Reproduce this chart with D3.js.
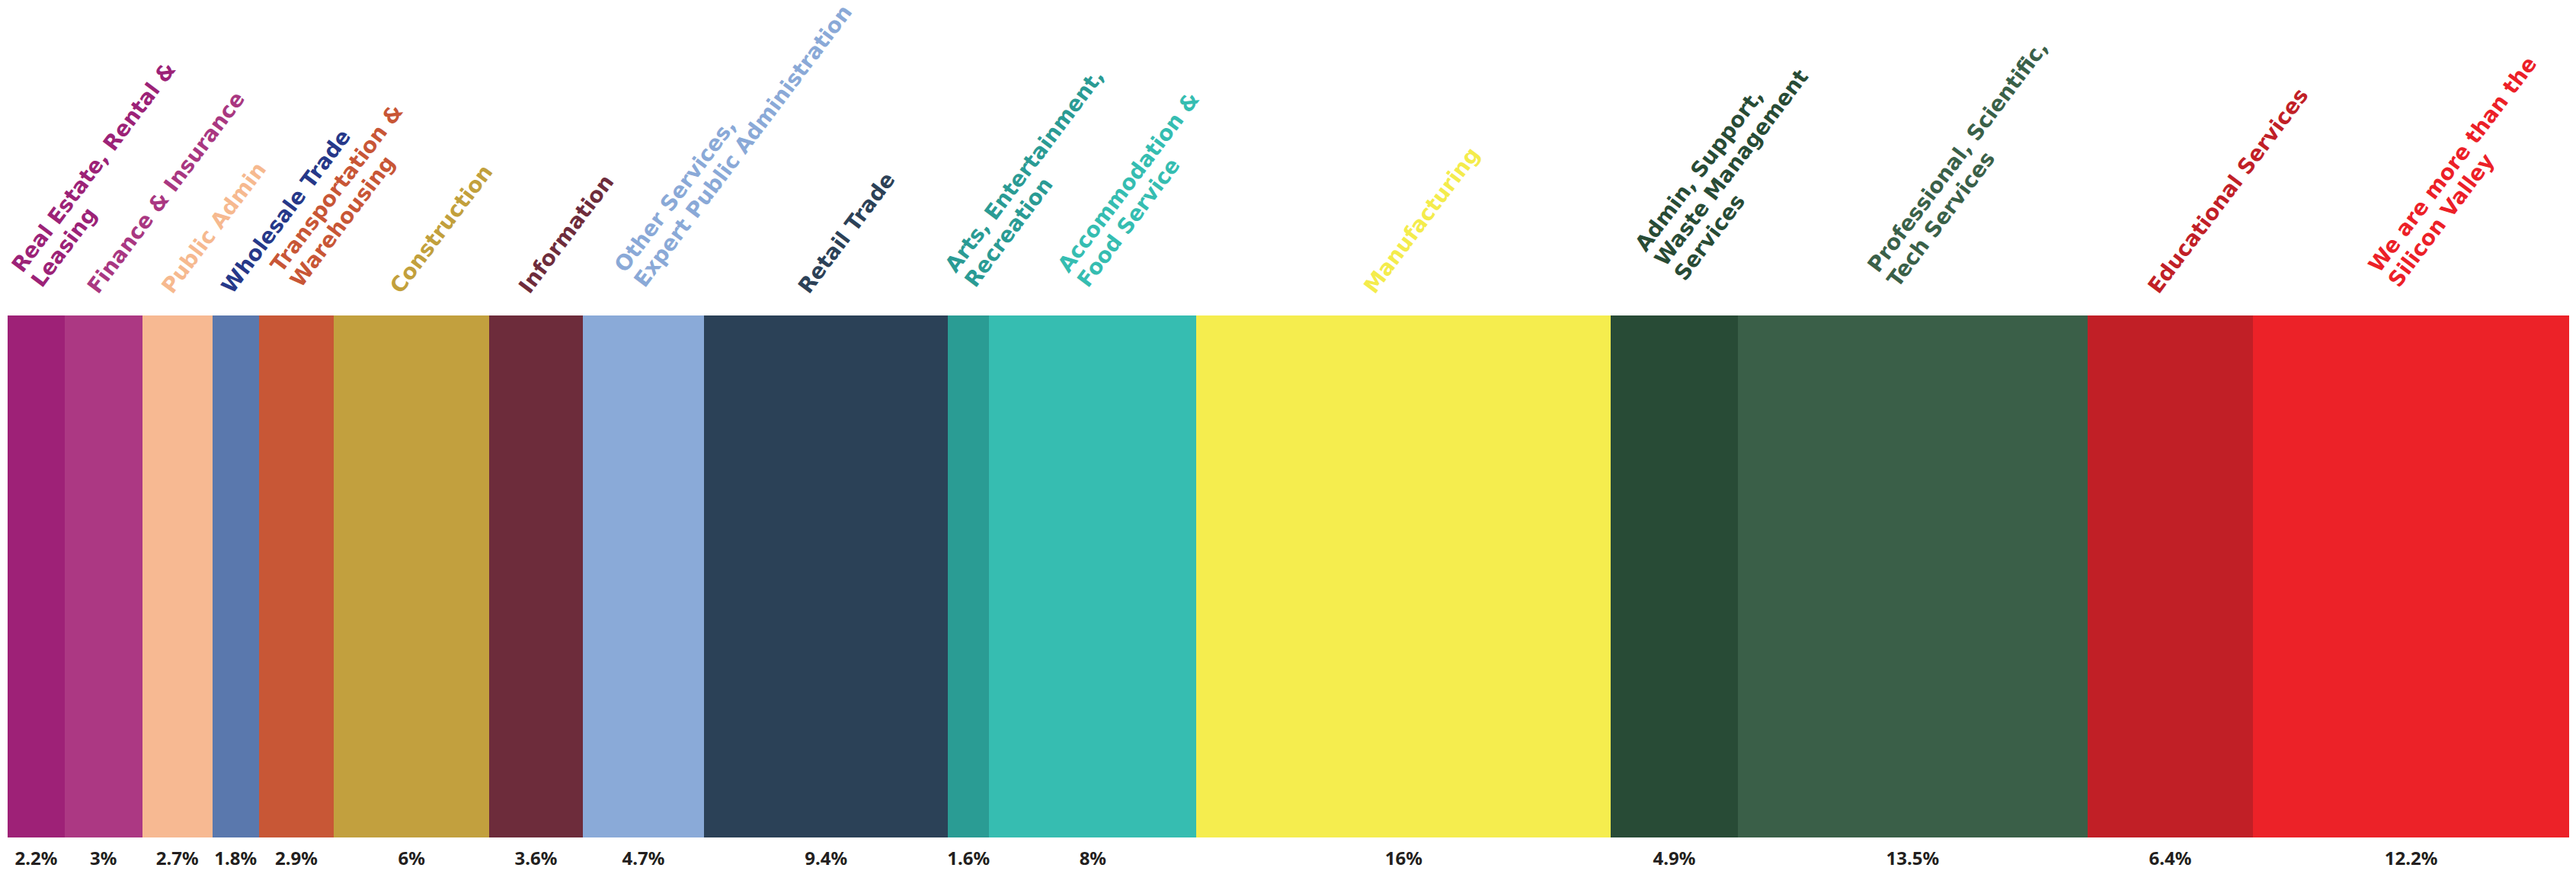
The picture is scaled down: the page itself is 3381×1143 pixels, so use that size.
<!DOCTYPE html>
<html>
<head>
<meta charset="utf-8">
<script src="https://cdn.jsdelivr.net/npm/d3@7"></script>
<style>
    body { margin: 0; background: #ffffff; }
    svg { display: block; }
</style>
</head>
<body>
<div id="chart"></div>
<script>
//// data
let industries = ["Real Estate, Rental & Leasing", "Finance & Insurance", "Public Admin", "Wholesale Trade",
    "Transportation & Warehousing", "Construction", "Information", "Other Services, Expert Public Administration",
    "Retail Trade", "Arts, Entertainment, Recreation", "Accommodation & Food Service", "Manufacturing",
    "Admin, Support, Waste Management Services", "Professional, Scientific, Tech Services",
    "Educational Services", "We are more than the Silicon Valley"]
let shares = [2.2, 3, 2.7, 1.8, 2.9, 6, 3.6, 4.7, 9.4, 1.6, 8, 16, 4.9, 13.5, 6.4, 12.2]
let shareLabels = ["2.2%", "3%", "2.7%", "1.8%", "2.9%", "6%", "3.6%", "4.7%", "9.4%", "1.6%", "8%", "16%", "4.9%", "13.5%", "6.4%", "12.2%"]
// how the rotated labels wrap
let labelLines = [
    ["Real Estate, Rental &", "Leasing"],
    ["Finance & Insurance"],
    ["Public Admin"],
    ["Wholesale Trade"],
    ["Transportation &", "Warehousing"],
    ["Construction"],
    ["Information"],
    ["Other Services,", "Expert Public Administration"],
    ["Retail Trade"],
    ["Arts, Entertainment,", "Recreation"],
    ["Accommodation &", "Food Service"],
    ["Manufacturing"],
    ["Admin, Support,", "Waste Management", "Services"],
    ["Professional, Scientific,", "Tech Services"],
    ["Educational Services"],
    ["We are more than the", "Silicon Valley"]
]
let barColors = ["#9e2177", "#ac3883", "#f7b992", "#5a78ad", "#c85736", "#c2a03e", "#6d2c3b", "#8aaad8",
    "#2b4157", "#2a9c94", "#36bdb1", "#f5ed4e", "#284b36", "#3a5f48", "#c11f26", "#ec2228"]
let labelColors = ["#9c2277", "#a93781", "#f6b98f", "#263889", "#c85636", "#c2a03c", "#6e2c3b", "#8aa9d7",
    "#2c4157", "#2a9b94", "#35bdb1", "#f4ec4c", "#284b35", "#3a6048", "#c11f27", "#ec2027"]

//// layout
let width = 3381
let height = 1143
let margin = {left: 10, right: 9, top: 414, bottom: 44}
let angle = -53
let lineHeight = 32

//// stacked positions
let data = []
let running = 0
for (let i = 0; i < shares.length; i++) {
    data.push({name: industries[i], value: shares[i], label: shareLabels[i], lines: labelLines[i],
        start: running, end: running + shares[i], color: barColors[i], textColor: labelColors[i]})
    running += shares[i]
}

let x = d3.scaleLinear().domain([0, running]).range([margin.left, width - margin.right])
let y = d3.scaleLinear().domain([0, 1]).range([height - margin.bottom, margin.top])

const svg = d3.select("#chart").append("svg")
    .attr("width", width)
    .attr("height", height)

//// the bars
svg.append("g")
    .selectAll("rect")
    .data(data)
    .join("rect")
    .attr("x", d => x(d.start))
    .attr("y", y(1))
    .attr("width", d => x(d.end) - x(d.start))
    .attr("height", y(0) - y(1))
    .attr("fill", d => d.color)
    .attr("shape-rendering", "crispEdges")

//// percent under each bar
svg.append("g")
    .selectAll("text")
    .data(data)
    .join("text")
    .attr("x", d => (x(d.start) + x(d.end)) / 2)
    .attr("y", y(0) + 36)
    .attr("text-anchor", "middle")
    .attr("font-family", "'Noto Sans', sans-serif")
    .attr("font-weight", 700)
    .attr("font-size", 24)
    .attr("fill", "#231f20")
    .text(d => d.label)

//// rotated industry names, block centred on the anchor and lifted a bit per extra line
let labels = svg.append("g")
    .selectAll("text")
    .data(data)
    .join("text")
    .attr("transform", d => {
        let px = x(d.start) + 0.43 * (x(d.end) - x(d.start))
        let py = y(1) - 27 - (d.lines.length - 1) * 18
        return `translate(${px},${py}) rotate(${angle})`
    })
    .attr("font-family", "'DejaVu Sans', sans-serif")
    .attr("font-weight", 700)
    .attr("font-size", 28)
    .attr("fill", d => d.textColor)

labels.selectAll("tspan")
    .data(d => d.lines.map((t, i) => ({t: t, i: i, n: d.lines.length})))
    .join("tspan")
    .attr("x", 0)
    .attr("y", l => (l.i - (l.n - 1) / 2) * lineHeight)
    .text(l => l.t)
</script>
</body>
</html>
